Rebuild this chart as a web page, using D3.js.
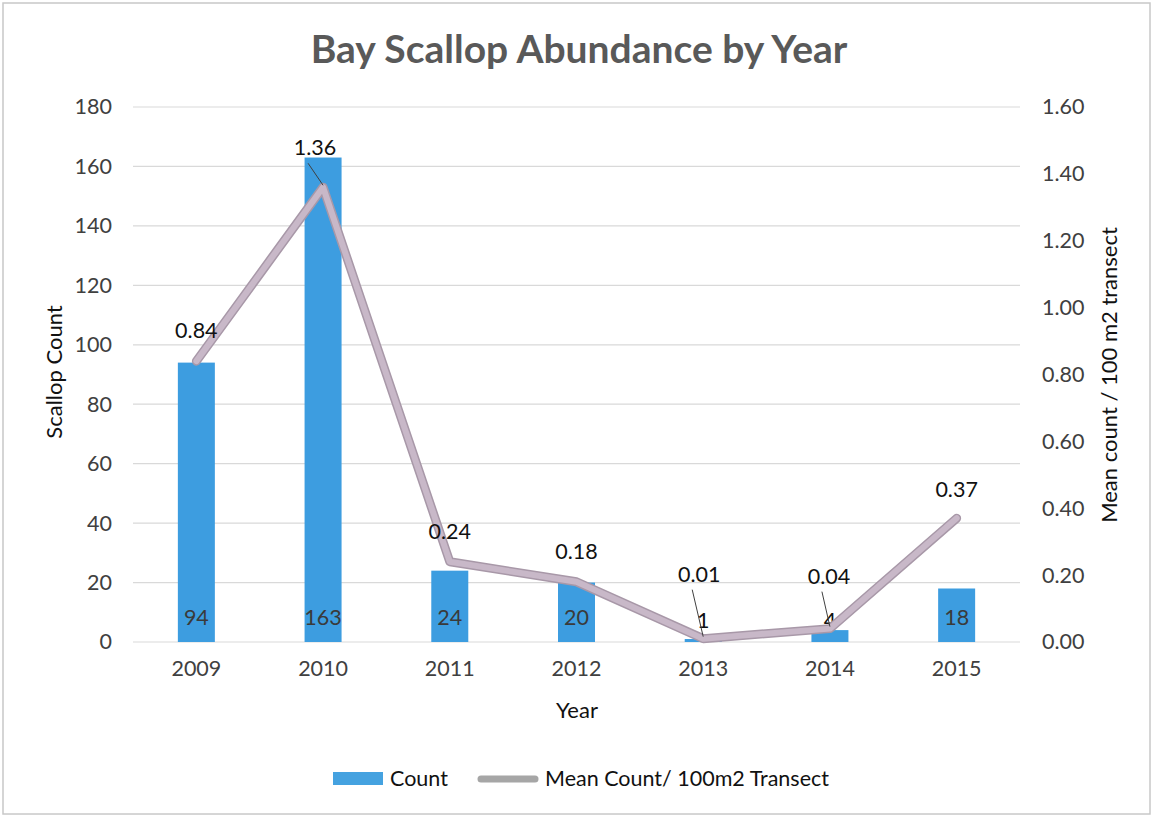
<!DOCTYPE html>
<html><head><meta charset="utf-8">
<script src="https://cdn.jsdelivr.net/npm/d3@7/dist/d3.min.js"></script>
<style>body{margin:0;background:#fff;} svg{display:block;}</style>
</head><body>
<svg id="c" width="1155" height="818"></svg>
<script>
const years = ["2009","2010","2011","2012","2013","2014","2015"];
const counts = [94,163,24,20,1,4,18];
const means = [0.84,1.36,0.24,0.18,0.01,0.04,0.37];
const leftTicks = [0,20,40,60,80,100,120,140,160,180];
const rightTicks = [0,0.2,0.4,0.6,0.8,1.0,1.2,1.4,1.6];

const font = "Lato, 'Open Sans', sans-serif";
const fs = 21.5;
const svg = d3.select("#c");
svg.append("rect").attr("x",3).attr("y",3).attr("width",1147).attr("height",811)
  .attr("fill","#fff").attr("stroke","#c8c8c8").attr("stroke-width",1.5);

const L=133,R=1020,T=107,B=642;
const x = d3.scaleBand().domain(years).range([L,R]).paddingInner(0).paddingOuter(0);
const y = d3.scaleLinear().domain([0,180]).range([B,T]);
const y2 = d3.scaleLinear().domain([0,1.6]).range([B,T]);

// grid
svg.append("g").selectAll("line").data(leftTicks).join("line")
  .attr("x1",L).attr("x2",R).attr("y1",d=>y(d)).attr("y2",d=>y(d))
  .attr("stroke","#d9d9d9").attr("stroke-width",1.2);

// left axis
const gl = svg.append("g").attr("transform",`translate(${L},0)`)
  .call(d3.axisLeft(y).tickValues(leftTicks).tickSize(0).tickPadding(21));
gl.select(".domain").remove();
gl.selectAll("text").attr("font-family",font).attr("font-size",fs).attr("fill","#404040");

// right axis
const gr = svg.append("g").attr("transform",`translate(${R},0)`)
  .call(d3.axisRight(y2).tickValues(rightTicks).tickSize(0).tickPadding(22).tickFormat(d3.format(".2f")));
gr.select(".domain").remove();
gr.selectAll("text").attr("font-family",font).attr("font-size",fs).attr("fill","#404040");

// x axis
const gx = svg.append("g").attr("transform",`translate(0,${B})`)
  .call(d3.axisBottom(x).tickSize(0).tickPadding(19));
gx.select(".domain").remove();
gx.selectAll("text").attr("font-family",font).attr("font-size",fs).attr("fill","#404040");

// bars
const bw = 37;
const cx = d => x(d)+x.bandwidth()/2;
svg.append("g").selectAll("rect").data(years).join("rect")
  .attr("x",d=>cx(d)-bw/2).attr("width",bw)
  .attr("y",(d,i)=>y(counts[i])).attr("height",(d,i)=>B-y(counts[i]))
  .attr("fill","#3d9de0");

// bar labels
svg.append("g").selectAll("text").data(years).join("text")
  .attr("x",d=>cx(d)).attr("y",(d,i)=>counts[i]<10 ? B-14 : B-17)
  .attr("text-anchor","middle").attr("font-family",font).attr("font-size",fs)
  .attr("fill",(d,i)=>counts[i]<10?"#111":"#3a3a3a")
  .text((d,i)=>counts[i]);

// line
const line = d3.line().x((d,i)=>cx(years[i])).y(d=>y2(d));
svg.append("path").datum(means).attr("d",line).attr("fill","none")
  .attr("stroke","#a898a8").attr("stroke-width",9).attr("stroke-linejoin","round").attr("stroke-linecap","round");
svg.append("path").datum(means).attr("d",line).attr("fill","none")
  .attr("stroke","#c8b8c8").attr("stroke-width",6).attr("stroke-linejoin","round").attr("stroke-linecap","round");

// line labels
const lblOffset = [23,32,23,23,57,45,21];
const leaders = [false,true,false,false,true,true,false];
const lblDx = [0,-8,0,0,-4,-1,0];
svg.append("g").selectAll("line").data(years.filter((d,i)=>leaders[i])).join("line")
  .attr("x1",d=>{const i=years.indexOf(d);return cx(d)+lblDx[i]-7;})
  .attr("y1",d=>{const i=years.indexOf(d);return y2(means[i])-lblOffset[i]+8;})
  .attr("x2",d=>cx(d)).attr("y2",d=>{const i=years.indexOf(d);return y2(means[i])-2;})
  .attr("stroke","#404040").attr("stroke-width",1);
svg.append("g").selectAll("text").data(years).join("text")
  .attr("x",(d,i)=>cx(d)+lblDx[i]).attr("y",(d,i)=>y2(means[i])-lblOffset[i])
  .attr("text-anchor","middle").attr("font-family",font).attr("font-size",fs).attr("fill","#111")
  .text((d,i)=>d3.format(".2f")(means[i]));

// titles
svg.append("text").attr("x",579).attr("y",63).attr("text-anchor","middle")
  .attr("font-family",font).attr("font-weight","bold").attr("font-size",39).attr("fill","#595959")
  .text("Bay Scallop Abundance by Year");
svg.append("text").attr("transform",`translate(62,${372}) rotate(-90)`).attr("text-anchor","middle")
  .attr("font-family",font).attr("font-size",22).attr("fill","#111").text("Scallop Count");
svg.append("text").attr("transform",`translate(1117,${375}) rotate(-90)`).attr("text-anchor","middle")
  .attr("font-family",font).attr("font-size",22).attr("fill","#111").text("Mean count / 100 m2 transect");
svg.append("text").attr("x",577).attr("y",718).attr("text-anchor","middle")
  .attr("font-family",font).attr("font-size",22).attr("fill","#111").text("Year");

// legend
const lg = svg.append("g");
lg.append("rect").attr("x",333).attr("y",772).attr("width",50).attr("height",13).attr("fill","#45a2e0");
lg.append("text").attr("x",390).attr("y",786).attr("font-family",font).attr("font-size",fs).attr("fill","#111").text("Count");
lg.append("line").attr("x1",481).attr("x2",535).attr("y1",779).attr("y2",779)
  .attr("stroke","#a6a6a6").attr("stroke-width",7).attr("stroke-linecap","round");
lg.append("text").attr("x",545).attr("y",786).attr("font-family",font).attr("font-size",fs).attr("fill","#111").text("Mean Count/ 100m2 Transect");
</script>
</body></html>
